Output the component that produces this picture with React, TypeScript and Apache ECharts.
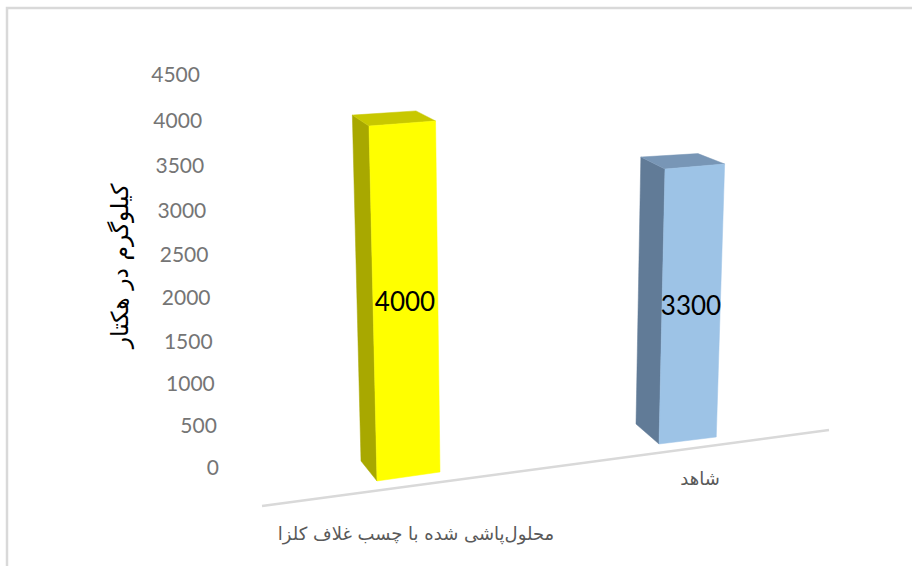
import React, { useEffect, useRef } from "react";
import * as echarts from "echarts";

const categories = ["محلول‌پاشی شده با چسب غلاف کلزا", "شاهد"];
const barValues = [4000, 3300];
const tickValues = [0, 500, 1000, 1500, 2000, 2500, 3000, 3500, 4000, 4500];
const axisTitle = "کیلوگرم در هکتار";

// Perspective model of the 3D chart (pixels relative to category centre / zero line).
const VANISH = { x: 520, y: 6820 };
const corners = [
  {
    fl: [-26.75, 15, 1.607e-4], fr: [36.25, 6, 1.587e-4], br: [17.55, -11.3, 1.55e-4], bl: [-42.75, -5, 1.561e-4],
    front: "#ffff00", side: "#a8a800", top: "#c8c800", valueAt: [405, 301], catAt: [416, 533],
  },
  {
    fl: [-28.25, -22, 1.5e-4], fr: [29, -29, 1.488e-4], br: [3.65, -47.4, 1.44e-4], bl: [-51.25, -42, 1.452e-4],
    front: "#9dc3e6", side: "#617b97", top: "#7896b6", valueAt: [691, 305], catAt: [700, 478],
  },
];

const project = (c: number[], cx: number, zeroY: number, h: number) => {
  const x0 = cx + c[0];
  const y0 = zeroY + c[1];
  const g = h * c[2];
  return [VANISH.x + (x0 - VANISH.x) * (1 + g), VANISH.y + (y0 - VANISH.y) * (1 + g)];
};

const renderBar = (params: any, api: any) => {
  const idx = api.value(0);
  const val = api.value(1);
  const zero = api.coord([idx, 0]);
  const top = api.coord([idx, val]);
  const h = zero[1] - top[1];
  const g = corners[idx];
  const P = (c: number[], hh: number) => project(c, zero[0], zero[1], hh);
  const poly = (points: number[][], fill: string) => ({
    type: "polygon",
    shape: { points },
    style: { fill, stroke: fill, lineWidth: 0.5 },
  });
  return {
    type: "group",
    children: [
      poly([P(g.bl, 0), P(g.fl, 0), P(g.fl, h), P(g.bl, h)], g.side),
      poly([P(g.bl, h), P(g.br, h), P(g.fr, h), P(g.fl, h)], g.top),
      poly([P(g.fl, 0), P(g.fr, 0), P(g.fr, h), P(g.fl, h)], g.front),
      {
        type: "text",
        style: {
          text: String(val), x: g.valueAt[0], y: g.valueAt[1], fill: "#000000",
          fontFamily: "Lato", fontSize: 26, align: "center", verticalAlign: "middle",
        },
      },
      {
        type: "text",
        style: {
          text: categories[idx], x: g.catAt[0], y: g.catAt[1], fill: "#595959",
          fontFamily: "DejaVu Sans", fontSize: 18, align: "center", verticalAlign: "middle",
        },
      },
    ],
  };
};

const renderTick = (params: any, api: any) => {
  const val = api.value(1);
  const zero = api.coord([0, 0]);
  const p = api.coord([0, val]);
  const h = zero[1] - p[1];
  const drop = 0.946 * h + 0.000138 * h * h;
  return {
    type: "text",
    style: {
      text: String(val), x: 219 - 0.0485 * h, y: zero[1] - drop, fill: "#757575",
      fontFamily: "Lato", fontSize: 21, align: "right", verticalAlign: "middle",
    },
  };
};

export default function App() {
  const ref = useRef<HTMLDivElement>(null);
  useEffect(() => {
    const chart = echarts.init(ref.current!, undefined, { renderer: "svg" });
    chart.setOption({
      animation: false,
      backgroundColor: "#ffffff",
      grid: { left: 262, top: 74, width: 567, height: 392 },
      xAxis: { type: "category", data: categories, show: false },
      yAxis: { type: "value", min: 0, max: 4500, interval: 500, show: false },
      graphic: [
        { type: "rect", shape: { x: 7, y: 8, width: 930, height: 590 }, style: { fill: "none", stroke: "#d9d9d9", lineWidth: 2.5 }, silent: true },
        { type: "line", shape: { x1: 262, y1: 506, x2: 829, y2: 430 }, style: { stroke: "#d9d9d9", lineWidth: 2.5 }, silent: true },
        {
          type: "text", x: 120, y: 266, rotation: Math.PI / 2,
          style: { text: axisTitle, fill: "#000000", fontFamily: "DejaVu Sans", fontSize: 23.5, align: "center", verticalAlign: "middle" },
        },
      ],
      series: [
        {
          type: "custom", renderItem: renderTick, clip: false, silent: true,
          data: tickValues.map((v) => [0, v]), encode: { x: 0, y: 1 },
        },
        {
          type: "custom", renderItem: renderBar, clip: false, silent: true,
          data: barValues.map((v, i) => [i, v]), encode: { x: 0, y: 1 },
        },
      ],
    });
    return () => chart.dispose();
  }, []);
  return <div ref={ref} style={{ position: "fixed", left: 0, top: 0, width: 912, height: 566 }} />;
}
